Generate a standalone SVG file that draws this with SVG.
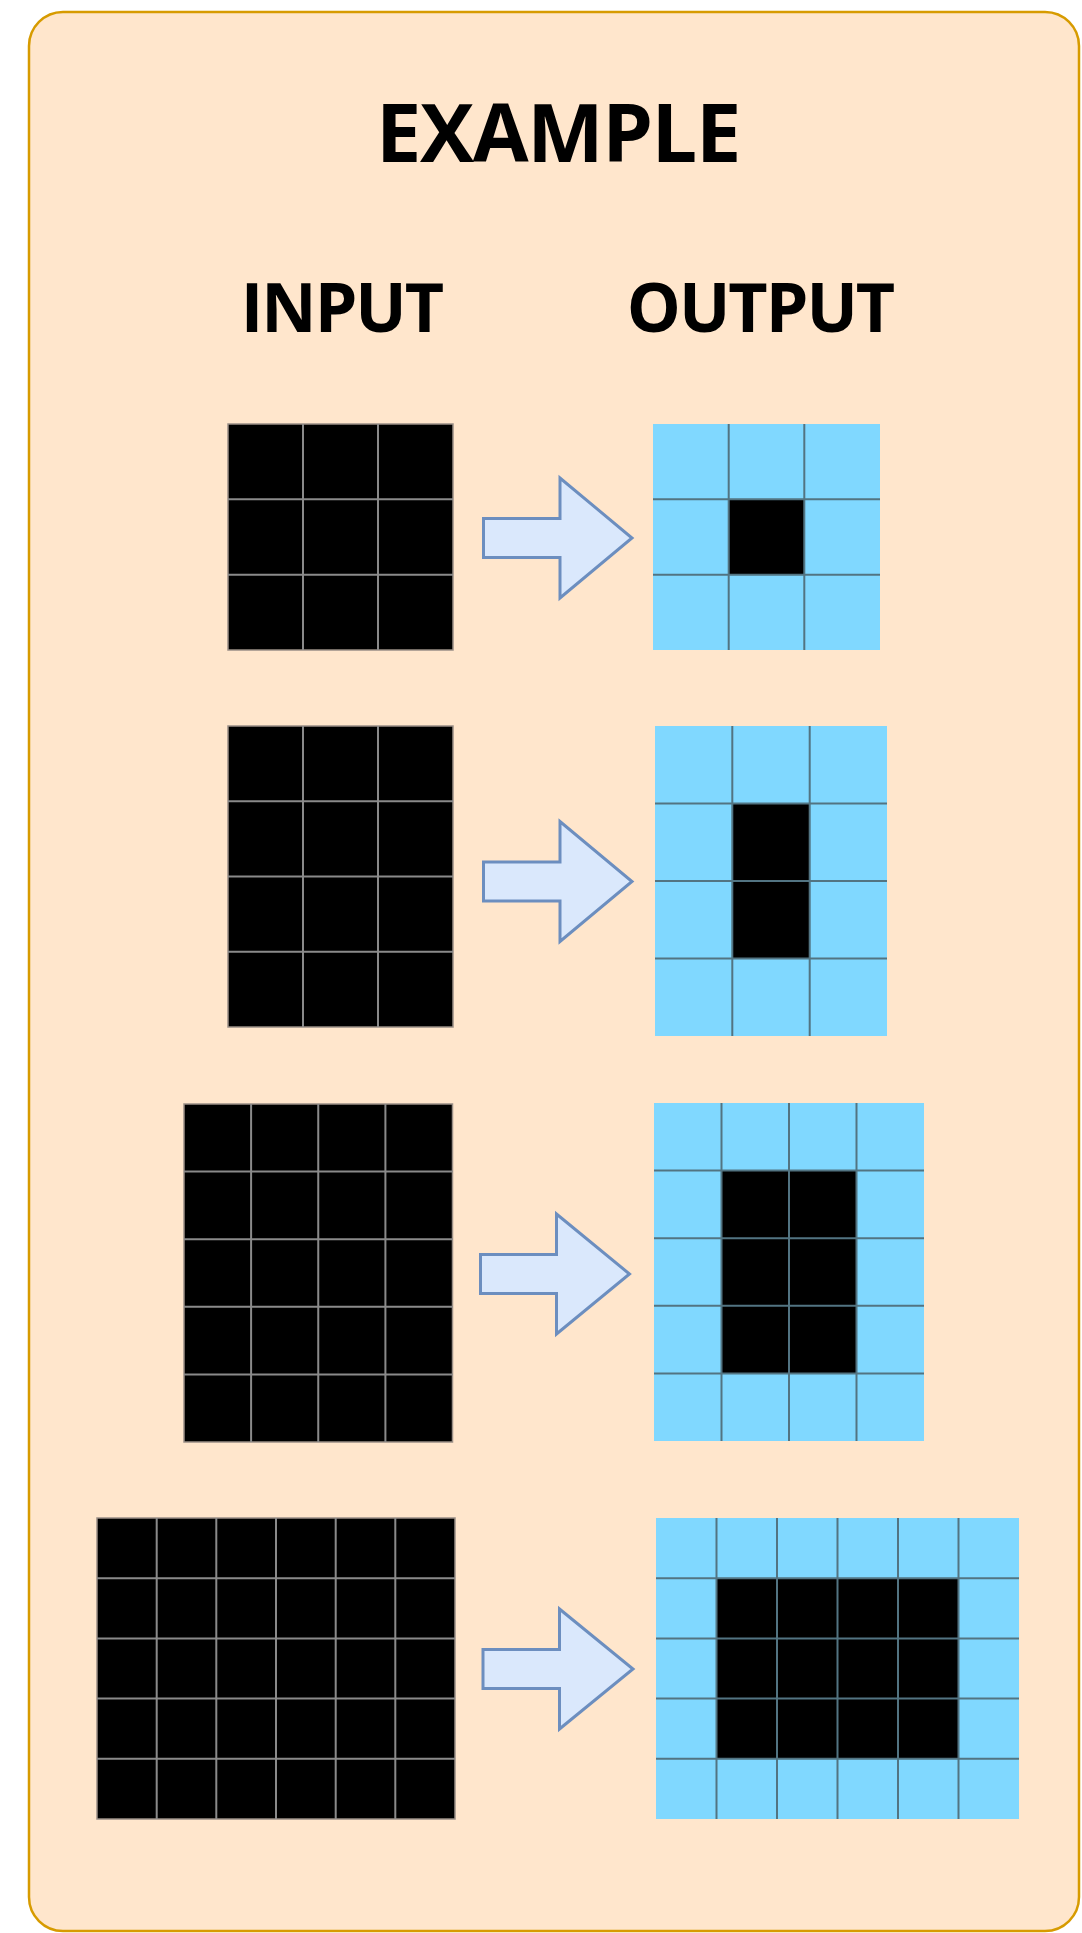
<svg xmlns="http://www.w3.org/2000/svg" width="1082" height="1933" viewBox="0 0 1082 1933">
<style>
.panel{fill:#ffe6cc;stroke:#d79b00;stroke-width:2.5}
.title{font-family:"Open Sans","Liberation Sans",sans-serif;font-weight:700;fill:#000;text-anchor:middle}
.inbg{fill:#000;stroke:#9a8f86;stroke-width:1.5}
.outbg{fill:#80d8ff}
.blk{fill:#000}
.ing{stroke:#8a8a8a;stroke-width:2;fill:none}
.outg{stroke:#527482;stroke-width:2;fill:none}
.arrow{fill:#dae8fc;stroke:#6c8ebf;stroke-width:3;stroke-linejoin:miter}
</style>
<g id="panel">
<rect class="panel" x="29" y="12" width="1050" height="1919" rx="34" ry="34"/>
<text class="title" x="558" y="162" font-size="81" letter-spacing="-1.4">EXAMPLE</text>
<text class="title" x="341.5" y="332" font-size="68" letter-spacing="-2">INPUT</text>
<text class="title" x="760" y="332" font-size="68" letter-spacing="-2">OUTPUT</text>
</g>
<g id="input1">
<rect class="inbg" x="228" y="424" width="225" height="226"/>
<path class="ing" d="M303,424V650M378,424V650M228,499.3H453M228,574.7H453"/>
</g>
<g id="output1">
<rect class="outbg" x="653" y="424" width="227" height="226"/>
<rect class="blk" x="728.7" y="499.3" width="75.6" height="75.4"/>
<path class="outg" d="M728.7,424V650M804.3,424V650M653,499.3H880M653,574.7H880"/>
</g>
<g id="input2">
<rect class="inbg" x="228" y="726" width="225" height="301"/>
<path class="ing" d="M303,726V1027M378,726V1027M228,801.25H453M228,876.5H453M228,951.75H453"/>
</g>
<g id="output2">
<rect class="outbg" x="655" y="726" width="232" height="310"/>
<rect class="blk" x="732.3" y="803.5" width="77.4" height="155"/>
<path class="outg" d="M732.3,726V1036M809.7,726V1036M655,803.5H887M655,881H887M655,958.5H887"/>
</g>
<g id="input3">
<rect class="inbg" x="184" y="1104" width="268.5" height="338"/>
<path class="ing" d="M251.1,1104V1442M318.25,1104V1442M385.4,1104V1442M184,1171.6H452.5M184,1239.2H452.5M184,1306.8H452.5M184,1374.4H452.5"/>
</g>
<g id="output3">
<rect class="outbg" x="654" y="1103" width="270" height="338"/>
<rect class="blk" x="721.5" y="1170.6" width="135" height="202.8"/>
<path class="outg" d="M721.5,1103V1441M789,1103V1441M856.5,1103V1441M654,1170.6H924M654,1238.2H924M654,1305.8H924M654,1373.4H924"/>
</g>
<g id="input4">
<rect class="inbg" x="97" y="1518" width="358" height="301"/>
<path class="ing" d="M156.7,1518V1819M216.3,1518V1819M276,1518V1819M335.7,1518V1819M395.3,1518V1819M97,1578.2H455M97,1638.4H455M97,1698.6H455M97,1758.8H455"/>
</g>
<g id="output4">
<rect class="outbg" x="656" y="1518" width="363" height="301"/>
<rect class="blk" x="716.5" y="1578.2" width="242" height="180.6"/>
<path class="outg" d="M716.5,1518V1819M777,1518V1819M837.5,1518V1819M898,1518V1819M958.5,1518V1819M656,1578.2H1019M656,1638.4H1019M656,1698.6H1019M656,1758.8H1019"/>
</g>
<g id="connectors">
<path class="arrow" d="M483.5,518.5H560V478L632,538L560,598V557.5H483.5Z"/>
<path class="arrow" d="M483.5,862H560V821.5L632,881.5L560,941.5V901H483.5Z"/>
<path class="arrow" d="M480.5,1254.5H556.5V1214L629.5,1274L556.5,1334V1293.5H480.5Z"/>
<path class="arrow" d="M483,1649.5H559.5V1609L633,1669L559.5,1729V1688.5H483Z"/>
</g>
</svg>
